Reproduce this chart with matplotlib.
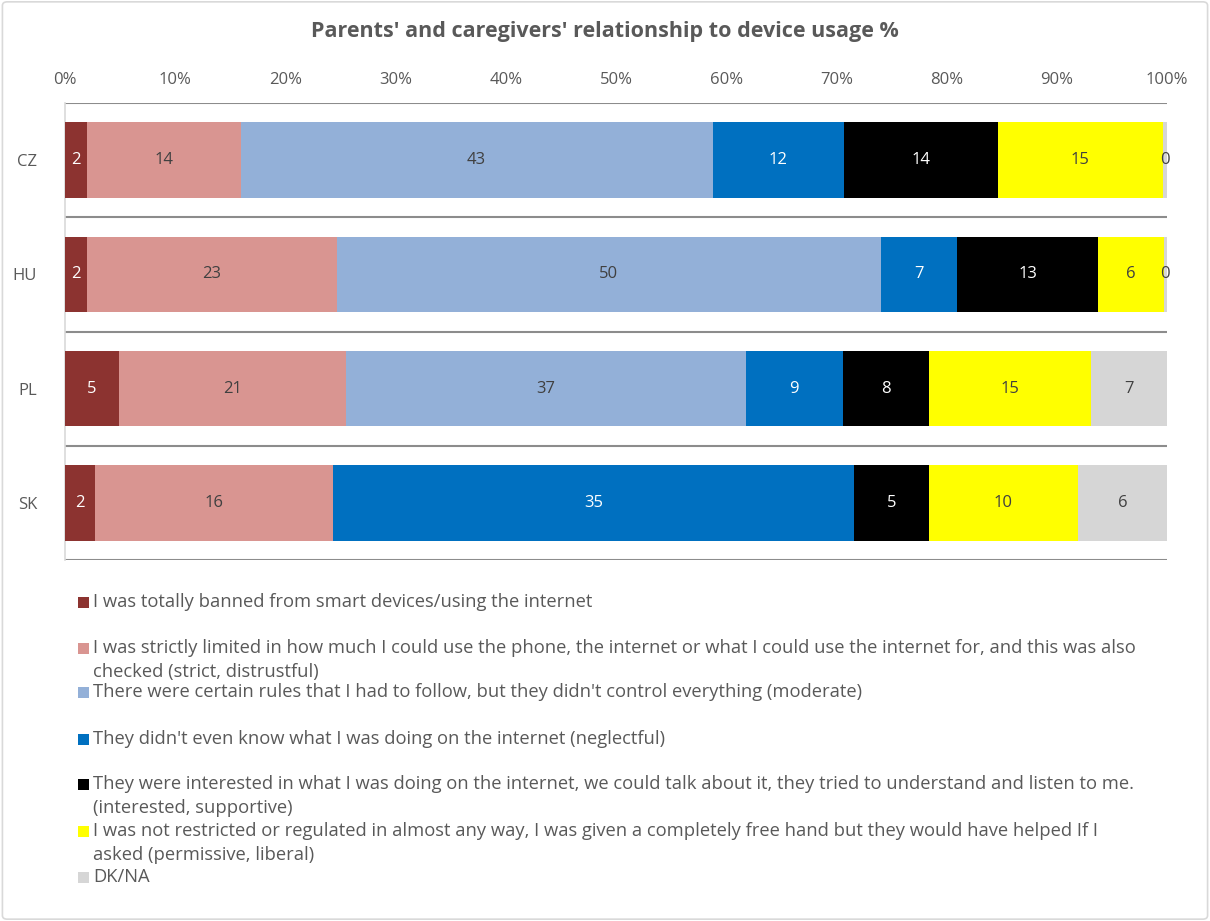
import matplotlib.pyplot as plt
from matplotlib.patches import FancyBboxPatch
import numpy as np

plt.rcParams["font.family"] = ["Open Sans", "DejaVu Sans"]

countries = ["CZ", "HU", "PL", "SK"]

# shares per answer, in %; SK had no "moderate" answer shown
banned = [2, 2, 5, 2]
strict = [14, 23, 21, 16]
moderate = [43, 50, 37, np.nan]
neglectful = [12, 7, 9, 35]
supportive = [14, 13, 8, 5]
permissive = [15, 6, 15, 10]
dk_na = [0.4, 0.3, 7, 6]

series_names = [
    "I was totally banned from smart devices/using the internet",
    "I was strictly limited in how much I could use the phone, the internet or what I could use the internet for, and this was also\nchecked (strict, distrustful)",
    "There were certain rules that I had to follow, but they didn't control everything (moderate)",
    "They didn't even know what I was doing on the internet (neglectful)",
    "They were interested in what I was doing on the internet, we could talk about it, they tried to understand and listen to me.\n(interested, supportive)",
    "I was not restricted or regulated in almost any way, I was given a completely free hand but they would have helped If I\nasked (permissive, liberal)",
    "DK/NA",
]
series = [banned, strict, moderate, neglectful, supportive, permissive, dk_na]
colors = ["#8C3330", "#D99591", "#93B0D8", "#0070C0", "#000000", "#FFFF00", "#D6D6D6"]
label_colors = ["white", "#404040", "#404040", "white", "white", "#404040", "#404040"]

W, H = 1210, 921
TXT = "#595959"


def fx(px):
    return px / W


def fy(py):
    return 1 - py / H


fig = plt.figure(figsize=(W / 100, H / 100), dpi=100)
fig.patches.append(FancyBboxPatch((0.002, 0.002), 0.996, 0.996, boxstyle="round,pad=0,rounding_size=0.004",
                                  transform=fig.transFigure, facecolor="none", edgecolor="#D9D9D9", lw=1.2))

ax = fig.add_axes([fx(65), fy(560), fx(1167) - fx(65), fy(103) - fy(560)])

data = np.array(series, dtype=float)
totals = np.nansum(data, axis=0)
y = np.arange(len(countries))
left = np.zeros(len(countries))

for vals, color, tcol in zip(data, colors, label_colors):
    share = np.nan_to_num(vals) / totals * 100
    ax.barh(y, share, left=left, height=0.66, color=color, edgecolor="none", zorder=3)
    for i, v in enumerate(vals):
        if np.isnan(v):
            continue
        ax.text(left[i] + share[i] / 2, y[i], f"{v:.0f}", ha="center", va="center",
                fontsize=12, color=tcol, zorder=4)
    left += share

ax.set_xlim(0, 100)
ax.set_ylim(len(countries) - 0.5, -0.5)
ax.set_yticks(y)
ax.set_yticklabels(countries)
ax.set_yticks(np.arange(len(countries) + 1) - 0.5, minor=True)
ax.grid(axis="y", which="minor", color="#8C8C8C", lw=1.5, zorder=1)
ax.set_xticks(np.arange(0, 101, 10))
ax.set_xticklabels([f"{t}%" for t in range(0, 101, 10)])
ax.xaxis.tick_top()
ax.tick_params(axis="x", length=0, pad=11, labelsize=12, labelcolor=TXT)
ax.tick_params(axis="y", which="both", length=0, pad=20, labelsize=12, labelcolor=TXT)
for side in ["top", "right", "bottom"]:
    ax.spines[side].set_visible(False)
ax.spines["left"].set_color("#D9D9D9")
ax.spines["left"].set_linewidth(1.2)

fig.text(0.5, fy(31), "Parents' and caregivers' relationship to device usage %", ha="center", va="center",
         fontsize=15.5, fontweight="bold", color=TXT)

# legend, one entry per answer, laid out like the spreadsheet legend
entry_y = [602, 648, 692, 739, 784, 831, 877]
for name, color, py in zip(series_names, colors, entry_y):
    fig.patches.append(plt.Rectangle((fx(78), fy(py + 5.5)), fx(11), 11 / H, transform=fig.transFigure,
                                     facecolor=color, edgecolor="none"))
    for k, line in enumerate(name.split("\n")):
        fig.text(fx(93), fy(py + 24 * k), line, ha="left", va="center", fontsize=13.2, color=TXT)

fig.savefig("out.png", dpi=100)
